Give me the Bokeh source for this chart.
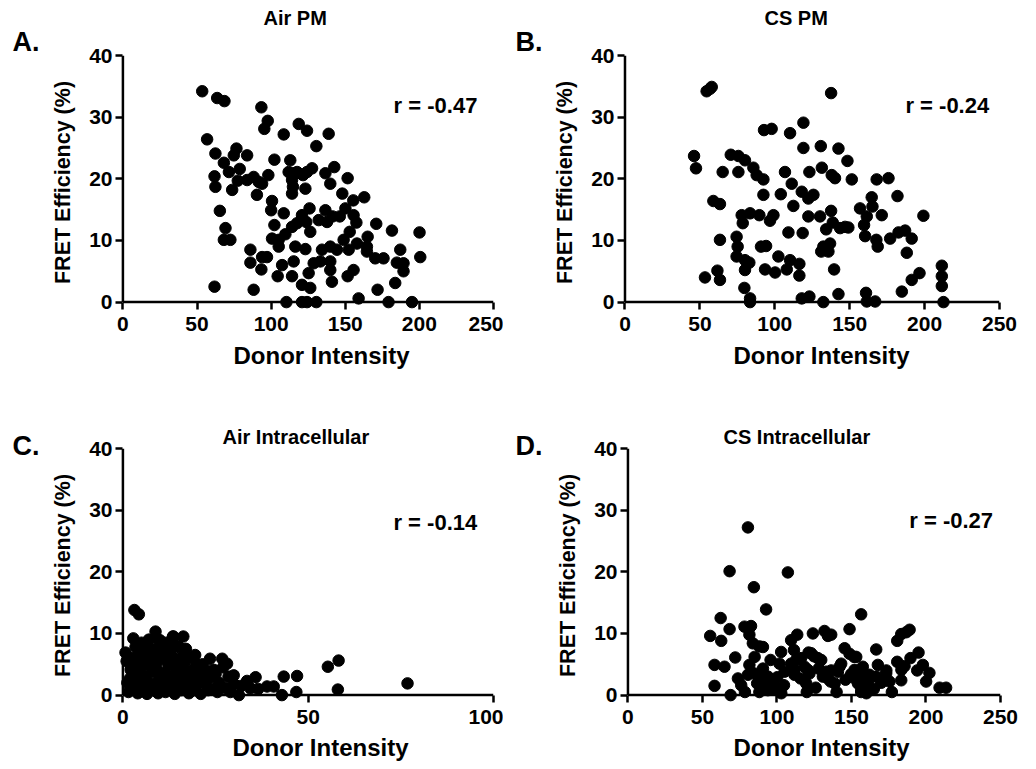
from bokeh.plotting import figure
from bokeh.models import Label, FixedTicker, ColumnDataSource, Title
from bokeh.layouts import column, row
from bokeh.embed import file_html
from bokeh.resources import INLINE

FONT = "Liberation Sans"

# ---------------- data ----------------
titles = ["Air PM", "CS PM", "Air Intracellular", "CS Intracellular"]
letters = ["A.", "B.", "C.", "D."]
r_texts = ["r = -0.47", "r = -0.24", "r = -0.14", "r = -0.27"]
x_label = "Donor Intensity"
y_label = "FRET Efficiency (%)"
y_ticks = [0, 10, 20, 30, 40]
x_ticks_pm = [0, 50, 100, 150, 200, 250]
x_ticks_air_ic = [0, 50, 100]
x_ticks_cs_ic = [0, 50, 100, 150, 200, 250]

air_pm_x = [53.5, 56.8, 63.6, 68.5, 62.4, 61.8, 62.4, 65.4, 69.2, 68.1, 72.5, 61.8, 68.1, 71.5, 74.8,
            76.6, 78.8, 73.7, 77.5, 83.8, 83.8, 88.2, 91.6, 93.9, 90.4, 98.1, 93.4, 97.7, 95.4, 86.0,
            86.0, 93.9, 97.2, 93.4, 88.2, 102.2, 100.6, 100.0, 102.2, 100.6, 105.1, 105.1, 108.5, 107.4, 104.4,
            108.5, 112.9, 111.8, 115.2, 114.1, 114.7, 114.1, 118.6, 117.5, 121.5, 124.2, 127.6, 123.1, 124.2, 130.5,
            138.8, 136.6, 139.9, 142.6, 109.6, 114.1, 117.5, 120.8, 125.9, 126.4, 123.7, 116.3, 123.1, 115.2, 114.1,
            120.8, 126.4, 125.3, 128.7, 133.2, 134.3, 132.1, 136.6, 137.7, 141.4, 146.3, 139.9, 144.4, 148.9, 152.3,
            139.9, 139.9, 141.0, 148.0, 151.6, 150.1, 155.4, 155.6, 157.5, 153.0, 157.9, 162.8, 165.1, 164.6, 164.6,
            170.9, 170.2, 175.8, 151.6, 155.6, 159.0, 171.8, 181.5, 187.1, 184.8, 189.3, 189.3, 183.7, 200.1, 200.6,
            110.3, 120.8, 124.2, 130.5, 179.2, 195.0]
air_pm_y = [34.2, 26.4, 33.1, 32.6, 24.1, 20.4, 18.7, 14.8, 12.0, 10.1, 10.1, 2.5, 22.6, 21.1, 23.8,
            24.9, 21.6, 18.2, 19.7, 23.8, 19.8, 20.3, 19.5, 19.2, 17.4, 20.6, 31.6, 29.4, 28.1, 8.5,
            6.4, 7.3, 7.3, 5.3, 2.0, 23.1, 16.4, 14.9, 12.5, 10.3, 10.1, 9.0, 14.4, 6.0, 4.2,
            27.2, 23.0, 21.1, 20.9, 19.8, 18.7, 17.6, 28.9, 21.1, 20.6, 21.1, 21.7, 18.4, 27.8, 25.3,
            27.3, 20.9, 19.2, 21.9, 11.0, 12.2, 12.8, 14.1, 15.2, 11.4, 13.0, 9.0, 8.6, 6.6, 4.2,
            2.8, 2.3, 4.7, 6.3, 6.6, 8.5, 13.3, 14.9, 13.0, 13.9, 13.9, 9.0, 8.5, 10.1, 8.5,
            6.6, 5.2, 3.3, 17.6, 20.1, 15.2, 16.5, 14.1, 12.9, 11.4, 9.5, 17.0, 10.6, 9.0, 8.2,
            12.7, 7.1, 7.1, 4.2, 5.2, 0.6, 2.0, 11.6, 8.5, 6.4, 6.3, 5.0, 3.1, 11.3, 7.3,
            0.0, 0.0, 0.0, 0.0, 0.0, 0.0]

cs_pm_x = [54.5, 56.8, 57.9, 46.1, 47.4, 59.0, 63.4, 63.4, 53.4, 61.7, 63.4, 65.2, 70.6, 75.7, 80.1,
           75.7, 85.7, 87.9, 92.4, 92.4, 77.9, 78.6, 83.5, 89.7, 96.8, 99.1, 74.5, 75.2, 74.5, 80.1,
           83.0, 80.1, 79.7, 83.5, 83.5, 90.8, 94.2, 93.5, 100.2, 92.8, 97.9, 102.4, 106.8, 104.0, 110.2,
           111.3, 112.4, 109.1, 108.0, 110.2, 116.4, 116.4, 118.6, 118.0, 122.4, 125.8, 123.1, 119.1, 119.1, 122.4,
           130.2, 118.0, 123.1, 132.4, 130.7, 131.4, 137.6, 138.0, 140.2, 137.6, 138.7, 134.3, 132.4, 136.9, 135.8,
           131.0, 139.6, 142.5, 142.5, 148.5, 151.4, 143.6, 146.9, 149.1, 156.9, 159.6, 161.4, 160.3, 164.7, 165.2,
           168.0, 175.9, 171.4, 167.8, 168.7, 160.9, 161.4, 167.0, 177.0, 182.6, 187.0, 181.9, 191.4, 188.1, 184.8,
           191.4, 196.6, 199.2, 211.5, 211.5, 211.5, 212.6]
cs_pm_y = [34.2, 34.6, 34.9, 23.7, 21.7, 16.4, 15.9, 10.1, 4.0, 5.1, 3.6, 21.1, 23.9, 23.7, 23.0,
           21.1, 21.8, 20.6, 19.9, 17.4, 14.1, 12.8, 14.4, 14.1, 13.2, 14.1, 10.6, 9.0, 7.4, 6.8,
           6.4, 5.2, 2.3, 0.6, 0.0, 9.0, 9.1, 5.3, 4.8, 27.9, 28.1, 7.4, 21.1, 17.5, 27.4,
           19.2, 15.6, 11.3, 5.3, 6.8, 6.2, 4.3, 11.2, 17.9, 16.8, 17.4, 21.1, 29.1, 25.0, 13.9,
           13.9, 0.6, 0.9, 0.0, 25.3, 21.8, 33.9, 20.6, 20.1, 14.8, 12.9, 11.8, 9.0, 9.5, 8.2,
           8.2, 5.3, 1.3, 24.9, 22.9, 19.9, 12.0, 12.2, 12.1, 15.2, 12.5, 13.9, 10.7, 17.0, 15.5,
           19.9, 20.1, 14.1, 10.1, 9.0, 1.5, 0.1, 0.1, 10.3, 11.3, 11.6, 17.2, 10.3, 8.0, 1.7,
           3.6, 4.7, 14.0, 5.9, 4.2, 2.6, 0.0]

air_ic_x = [3.1, 4.3, 0.7, 2.8, 3.4, 2.2, 1.9, 3.0, 8.8, 10.0, 7.5, 13.6, 16.3, 15.1, 11.9,
            19.9, 23.5, 26.8, 28.1, 21.7, 24.5, 29.9, 31.3, 33.5, 35.8, 34.4, 38.9, 40.7, 43.4, 47.0,
            42.9, 46.8, 55.3, 58.2, 58.0, 76.8, 9.7, 12.9, 2.1, 2.5, 1.5, 4.0, 5.0, 6.0, 7.0,
            2.5, 3.5, 4.0, 4.5, 5.0, 5.5, 5.8, 6.0, 6.5, 7.0, 7.2, 7.8, 8.0, 8.5, 8.8,
            9.0, 9.5, 9.8, 10.2, 10.5, 11.0, 11.2, 11.5, 12.0, 12.3, 12.8, 13.0, 13.5, 14.0, 14.2,
            14.5, 15.0, 15.5, 15.8, 16.0, 16.5, 17.0, 17.3, 17.8, 18.0, 18.5, 19.0, 19.3, 20.0, 20.5,
            21.0, 21.5, 22.0, 22.5, 23.0, 23.5, 24.0, 25.0, 25.5, 26.0, 27.0, 27.5, 28.5, 29.0, 30.0,
            32.0, 36.5, 1.2, 1.0, 2.0, 3.8, 5.2, 6.8, 9.2, 11.8, 14.8, 17.0, 19.5, 13.5]
air_ic_y = [13.8, 13.1, 6.9, 9.2, 7.8, 4.3, 2.7, 1.4, 10.3, 8.9, 7.3, 9.5, 9.5, 7.8, 5.7,
            4.9, 5.9, 5.9, 5.1, 3.2, 4.1, 3.2, 0.0, 2.3, 2.9, 1.1, 1.4, 1.4, 3.0, 3.1,
            0.0, 0.5, 4.6, 5.6, 0.9, 1.9, 8.9, 7.6, 4.1, 2.7, 0.5, 6.5, 8.5, 7.5, 9.0,
            1.0, 3.5, 0.3, 2.0, 4.5, 1.0, 6.0, 3.0, 0.2, 5.0, 2.0, 3.8, 0.8, 6.2, 1.8,
            4.5, 0.3, 3.0, 5.8, 1.5, 7.0, 3.6, 0.5, 2.2, 4.8, 1.0, 6.5, 3.2, 0.2, 5.0,
            1.8, 4.0, 6.0, 0.8, 2.8, 5.2, 1.4, 3.8, 0.3, 6.0, 2.4, 4.2, 0.8, 1.8, 3.2,
            0.2, 5.0, 2.0, 4.0, 0.8, 2.8, 1.0, 3.4, 0.5, 2.0, 4.5, 1.2, 3.0, 0.5, 1.8,
            1.5, 1.0, 2.0, 5.5, 6.0, 5.2, 7.0, 8.0, 7.5, 8.5, 8.0, 7.5, 6.5, 9.5]

cs_ic_x = [80.5, 68.2, 107.3, 84.5, 92.7, 156.5, 55.2, 62.2, 68.2, 62.6, 72.0, 58.1, 64.8, 58.1, 68.9,
           78.2, 82.6, 81.5, 83.8, 88.2, 90.6, 85.0, 81.5, 80.5, 73.8, 76.0, 78.5, 90.6, 88.2, 91.7,
           95.7, 97.3, 88.2, 93.9, 86.7, 102.8, 101.7, 105.1, 104.7, 102.9, 100.2, 109.5, 113.6, 111.4, 112.9,
           111.8, 115.8, 119.6, 109.5, 116.2, 118.5, 111.7, 121.2, 124.8, 124.1, 122.9, 127.4, 121.8, 120.7, 131.9,
           134.2, 129.7, 128.0, 132.0, 136.0, 133.0, 130.8, 134.1, 136.4, 138.7, 136.4, 142.0, 145.4, 148.7, 148.7,
           151.8, 153.2, 152.1, 157.6, 158.8, 154.3, 156.5, 143.1, 140.9, 149.8, 153.2, 157.6, 161.0, 156.6, 162.1,
           166.6, 167.7, 166.6, 173.3, 175.5, 177.1, 173.4, 180.7, 183.4, 186.8, 189.0, 180.7, 185.6, 183.4, 189.6,
           195.0, 197.9, 194.1, 202.3, 200.1, 209.1, 213.5, 183.5, 93.9, 99.0, 85.0, 120.0, 126.0, 140.0, 160.0,
           146.0, 165.0, 170.0]
cs_ic_y = [27.2, 20.1, 19.9, 17.5, 13.9, 13.1, 9.6, 12.5, 10.7, 8.8, 6.1, 4.9, 4.6, 1.5, 0.0,
           11.1, 11.2, 9.8, 8.4, 7.9, 7.8, 6.2, 4.9, 3.3, 2.7, 1.6, 0.5, 4.3, 2.7, 1.9,
           5.7, 2.2, 0.5, 3.0, 1.9, 7.0, 5.1, 3.8, 1.6, 0.3, 2.9, 8.9, 9.8, 7.3, 5.7,
           4.1, 2.7, 1.9, 5.1, 6.0, 4.6, 3.3, 6.9, 6.3, 10.0, 6.8, 6.0, 3.5, 4.1, 10.4,
           9.6, 5.7, 4.3, 3.3, 2.2, 3.8, 3.0, 2.7, 4.0, 1.9, 9.8, 4.6, 7.6, 10.7, 6.7,
           6.2, 6.2, 4.1, 4.6, 2.7, 1.9, 0.5, 5.1, 3.8, 3.4, 2.5, 3.8, 1.9, 0.9, 3.3,
           7.4, 4.9, 3.0, 3.5, 2.2, 0.5, 4.0, 8.8, 9.9, 10.2, 10.6, 5.4, 4.7, 2.4, 6.0,
           6.9, 4.9, 4.0, 3.6, 2.2, 1.2, 1.2, 4.1, 0.8, 1.0, 3.5, 0.5, 1.2, 0.5, 0.3,
           2.5, 1.0, 2.0]


def panel(xs, ys, x_end, x_ticks, x_pad, title, letter, rtext,
          title_off, letter_off, xlab_off, xlab_stand, stand_letter, stand_title, r_xy,
          fw, fh, bl, br, bt, bb):
    p = figure(frame_width=fw, frame_height=fh, min_border_left=bl, min_border_right=br,
               min_border_top=bt, min_border_bottom=bb,
               x_range=(-x_pad, x_end), y_range=(-1.2, 40),
               output_backend="svg", toolbar_location=None, tools="")
    p.outline_line_color = None
    p.grid.visible = False
    p.background_fill_color = "white"
    p.border_fill_color = "white"

    # axis lines at zero, spanning the tick range
    p.segment(x0=[x_ticks[0]], y0=[y_ticks[0]], x1=[x_ticks[-1]], y1=[y_ticks[0]],
              line_color="black", line_width=2.5)
    p.segment(x0=[x_ticks[0]], y0=[y_ticks[0]], x1=[x_ticks[0]], y1=[y_ticks[-1]],
              line_color="black", line_width=2.5)

    src = ColumnDataSource(dict(x=xs, y=ys))
    p.scatter("x", "y", source=src, size=11.5, color="black")

    for ax in (p.xaxis[0], p.yaxis[0]):
        ax.axis_line_color = None
        ax.major_tick_line_width = 2.5
        ax.major_tick_out = 0
        ax.major_tick_in = 7
        ax.minor_tick_line_color = None
        ax.major_label_text_font = FONT
        ax.major_label_text_font_style = "bold"
        ax.major_label_text_font_size = "21px"
        ax.major_label_text_color = "black"
        ax.axis_label_text_font = FONT
        ax.axis_label_text_font_style = "bold"
        ax.axis_label_text_color = "black"
    p.xaxis[0].ticker = FixedTicker(ticks=x_ticks)
    p.xaxis[0].major_label_standoff = 7
    p.yaxis[0].ticker = FixedTicker(ticks=y_ticks)
    p.yaxis[0].axis_label = y_label
    p.yaxis[0].axis_label_text_font_size = "21.5px"
    p.yaxis[0].major_label_standoff = 3
    p.yaxis[0].axis_label_standoff = 11

    # x-axis title placed below the axis (slightly right of centre, as in the original)
    p.add_layout(Title(text=x_label, align="left", offset=xlab_off, standoff=xlab_stand,
                       text_font=FONT, text_font_style="bold", text_font_size="24px",
                       text_color="black"), "below")

    p.add_layout(Title(text=letter, align="left", offset=letter_off, standoff=stand_letter,
                       text_font=FONT, text_font_style="bold", text_font_size="27px",
                       text_color="black"), "above")
    p.add_layout(Title(text=title, align="left", offset=title_off, standoff=stand_title,
                       text_font=FONT, text_font_style="bold", text_font_size="20px",
                       text_color="black"), "above")
    p.add_layout(Label(x=r_xy[0], y=r_xy[1], text=rtext, text_align="left",
                       text_baseline="middle", text_font=FONT, text_font_style="bold",
                       text_font_size="22px", text_color="black"))
    return p


pA = panel(air_pm_x, air_pm_y, 250, x_ticks_pm, 5, titles[0], letters[0], r_texts[0],
           148, -103, 118, 13, -3, -5, (182.6, 31.9), 378, 254, 115, 10, 55, 99)
pB = panel(cs_pm_x, cs_pm_y, 250, x_ticks_pm, 5, titles[1], letters[1], r_texts[1],
           147, -102, 116, 13, -3, -5, (187.2, 31.9), 382, 254, 114, 37, 55, 99)
pC = panel(air_ic_x, air_ic_y, 100, x_ticks_air_ic, 2, titles[2], letters[2], r_texts[2],
           107, -103, 117, 10, -25, -13, (73.0, 28.0), 378, 254, 115, 10, 40, 67)
pD = panel(cs_ic_x, cs_ic_y, 250, x_ticks_cs_ic, 5, titles[3], letters[3], r_texts[3],
           103, -105, 113, 10, -25, -13, (188.8, 28.3), 380, 254, 117, 36, 40, 67)

layout = column(row(pA, pB), row(pC, pD))
open("out.html", "w").write(file_html(layout, INLINE))
